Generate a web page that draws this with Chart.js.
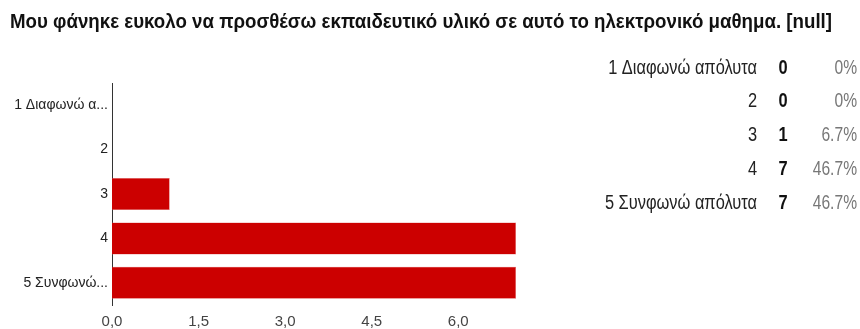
<!DOCTYPE html>
<html>
<head>
<meta charset="utf-8">
<script src="https://cdn.jsdelivr.net/npm/chart.js@4.4.0/dist/chart.umd.min.js"></script>
<style>
    html, body { margin: 0; padding: 0; background: #fff; }
    #wrap { position: relative; width: 860px; height: 329px; }
</style>
</head>
<body>
<div id="wrap"><canvas id="surveyChart"></canvas></div>
<script>
// Ερώτηση και απαντήσεις
const questionTitle = 'Μου φάνηκε ευκολο να προσθέσω εκπαιδευτικό υλικό σε αυτό το ηλεκτρονικό μαθημα. [null]';
const categories = ['1 Διαφωνώ απόλυτα', '2', '3', '4', '5 Συνφωνώ απόλυτα'];
const axisLabels = ['1 Διαφωνώ α...', '2', '3', '4', '5 Συνφωνώ...'];
const counts = [0, 0, 1, 7, 7];
const xTicks = [0, 1.5, 3, 4.5, 6];
const xMax = 7;

const FONT = '"Liberation Sans", Arial, sans-serif';

// Μορφοποίηση αριθμών με κόμμα
function formatTick(v) {
    return v.toFixed(1).replace('.', ',');
}

function formatPct(count, total) {
    if (count === 0) return '0%';
    return (count / total * 100).toFixed(1) + '%';
}

// στενό κείμενο: οριζόντια συμπίεση της γραμματοσειράς
function narrowText(ctx, text, x, y, align, sx) {
    ctx.save();
    ctx.translate(x, y);
    ctx.scale(sx, 1);
    ctx.textAlign = align;
    ctx.fillText(text, 0, 0);
    ctx.restore();
}

// Τίτλος και πίνακας σύνοψης δεξιά
const summaryPlugin = {
    id: 'summary',
    afterDraw(chart) {
        const ctx = chart.ctx;
        const total = counts.reduce((a, b) => a + b, 0);
        ctx.save();
        ctx.textBaseline = 'middle';

        ctx.font = 'bold 20px ' + FONT;
        ctx.fillStyle = '#111';
        const tw = ctx.measureText(questionTitle).width;
        narrowText(ctx, questionTitle, 10, 22, 'left', 822 / tw);

        categories.forEach((cat, i) => {
            const y = 68 + i * 33.8;
            ctx.font = '20px ' + FONT;
            ctx.fillStyle = '#222';
            narrowText(ctx, cat, 757, y, 'right', 0.82);

            ctx.font = 'bold 20px ' + FONT;
            ctx.fillStyle = '#111';
            narrowText(ctx, String(counts[i]), 783, y, 'center', 0.82);

            ctx.font = '20px ' + FONT;
            ctx.fillStyle = '#777';
            narrowText(ctx, formatPct(counts[i], total), 857, y, 'right', 0.78);
        });
        ctx.restore();
    }
};

const ctx = document.getElementById('surveyChart').getContext('2d');
const surveyChart = new Chart(ctx, {
    type: 'bar',
    data: {
        labels: axisLabels,
        datasets: [{
            data: counts,
            backgroundColor: '#cc0000',
            borderColor: '#e06666',
            borderWidth: 0.5,
            barPercentage: 0.72,
            categoryPercentage: 1
        }]
    },
    options: {
        indexAxis: 'y',
        responsive: true,
        maintainAspectRatio: false,
        animation: false,
        layout: { padding: { top: 83, right: 344, bottom: 0, left: 0 } },
        plugins: {
            legend: { display: false },
            tooltip: { enabled: false }
        },
        scales: {
            x: {
                min: 0,
                max: xMax,
                grid: { display: false, drawTicks: false },
                border: { display: false },
                afterBuildTicks: scale => { scale.ticks = xTicks.map(v => ({ value: v })); },
                afterFit: scale => { scale.height = 24; },
                ticks: {
                    padding: 8,
                    color: '#444',
                    font: { family: FONT, size: 15 },
                    callback: v => formatTick(v)
                }
            },
            y: {
                grid: { display: false, drawTicks: false },
                border: { display: true, color: '#333', width: 1 },
                afterFit: scale => { scale.width = 112; },
                ticks: {
                    padding: 4,
                    color: '#222',
                    font: { family: FONT, size: 14 }
                }
            }
        }
    },
    plugins: [summaryPlugin]
});
</script>
</body>
</html>
